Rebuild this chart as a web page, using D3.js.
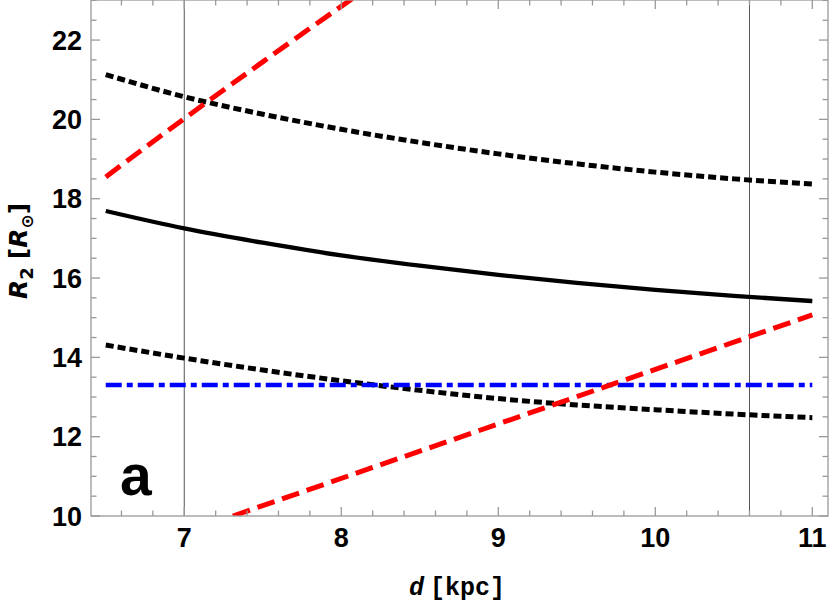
<!DOCTYPE html>
<meta charset="utf-8">
<head>
    <title></title>
    <script src="https://cdn.jsdelivr.net/npm/d3@7"></script>
</head>
<style>
    body{ margin:0; background:#fff; }
    .tlabel{
      font-family: "Liberation Sans", Arial, sans-serif;
      font-weight: bold;
      font-size: 27px;
    }
</style>
<svg width="830" height="604"></svg>
<script>
    // sampled distance grid (kpc)
    var dGrid = [6.5, 7, 7.5, 8, 8.5, 9, 9.5, 10, 10.5, 11];
    var r2Mid = [17.69, 17.25, 16.89, 16.57, 16.31, 16.08, 15.88, 15.70, 15.55, 15.42];
    var r2Up  = [21.13, 20.57, 20.13, 19.75, 19.42, 19.13, 18.88, 18.67, 18.50, 18.37];
    var r2Low = [14.31, 13.98, 13.68, 13.41, 13.17, 12.96, 12.80, 12.68, 12.57, 12.48];
    // red dashed limits
    var redUpD = [6.5, 7, 7.5, 8, 8.5],
        redUpR = [18.55, 20.02, 21.45, 22.85, 24.2];
    var redLowD = [7.31, 11],
        redLowR = [10.0, 15.07];
    // blue dash-dot
    var blueD = [6.5, 11],
        blueR = [13.3, 13.3];
    var vLines = [7, 10.6];
    var xTicks = [7, 8, 9, 10, 11],
        yTicks = [10, 12, 14, 16, 18, 20, 22];

    var pl = 91, pr = 828, pt = 0, pb = 516;
    var svg = d3.select('svg');

    var x = d3.scaleLinear().domain([6.406, 11.1]).range([pl, pr]),
        y = d3.scaleLinear().domain([10, 23.01]).range([pb, pt]);

    svg.append('clipPath').attr('id', 'clip')
        .append('rect').attr('x', pl).attr('y', pt)
        .attr('width', pr - pl).attr('height', pb - pt);

    var plot = svg.append('g').attr('clip-path', 'url(#clip)');

    // reference verticals
    plot.selectAll('.vl').data(vLines).enter().append('line')
        .attr('x1', function(d){ return x(d); }).attr('x2', function(d){ return x(d); })
        .attr('y1', pt).attr('y2', pb)
        .style('stroke', '#555').style('stroke-width', 1);

    function pts(ds, rs){
        return ds.map(function(d, i){ return [d, rs[i]]; });
    }
    var line = d3.line().curve(d3.curveMonotoneX)
        .x(function(d){ return x(d[0]); })
        .y(function(d){ return y(d[1]); });

    var series = [
        {p: pts(dGrid, r2Mid), c: '#000', w: 4.3, dash: null},
        {p: pts(dGrid, r2Up), c: '#000', w: 5, dash: '8,4'},
        {p: pts(dGrid, r2Low), c: '#000', w: 5, dash: '8,4'},
        {p: pts(blueD, blueR), c: '#0000ff', w: 4.5, dash: '16,5,6,5'},
        {p: pts(redUpD, redUpR), c: '#ff0000', w: 5, dash: '18,8'},
        {p: pts(redLowD, redLowR), c: '#ff0000', w: 5, dash: '18,8'}
    ];

    series.forEach(function(s){
        plot.append('path')
            .attr('d', line(s.p))
            .style('fill', 'none')
            .style('stroke', s.c)
            .style('stroke-width', s.w)
            .style('stroke-dasharray', s.dash);
    });

    // frame
    var frame = svg.append('g').style('stroke', '#999').style('stroke-width', 1.3).style('fill', 'none');
    frame.append('rect').attr('x', pl).attr('y', pt).attr('width', pr - pl).attr('height', pb - pt);

    // ticks on all sides
    var xMinor = d3.range(64, 111, 2).map(function(v){ return v / 10; }),
        yMinor = d3.range(20, 47, 1).map(function(v){ return v / 2; });
    xMinor.forEach(function(v){
        var major = Math.abs(v - Math.round(v)) < 1e-6, len = major ? 9 : 5.5;
        if (x(v) < pl || x(v) > pr) return;
        frame.append('line').attr('x1', x(v)).attr('x2', x(v)).attr('y1', pb).attr('y2', pb - len);
        frame.append('line').attr('x1', x(v)).attr('x2', x(v)).attr('y1', pt).attr('y2', pt + len);
    });
    yMinor.forEach(function(v){
        var major = Math.abs(v / 2 - Math.round(v / 2)) < 1e-6, len = major ? 9 : 5.5;
        if (y(v) < pt - 0.5) return;
        frame.append('line').attr('x1', pl).attr('x2', pl + len).attr('y1', y(v)).attr('y2', y(v));
        frame.append('line').attr('x1', pr).attr('x2', pr - len).attr('y1', y(v)).attr('y2', y(v));
    });

    svg.selectAll('.xt').data(xTicks).enter().append('text')
        .attr('class', 'tlabel')
        .attr('x', function(d){ return x(d); })
        .attr('y', 547)
        .attr('text-anchor', 'middle')
        .text(function(d){ return d; });

    svg.selectAll('.yt').data(yTicks).enter().append('text')
        .attr('class', 'tlabel')
        .attr('x', 82)
        .attr('y', function(d){ return y(d); })
        .attr('dy', '0.36em')
        .attr('text-anchor', 'end')
        .text(function(d){ return d; });

    // panel letter
    svg.append('text')
        .attr('x', 120).attr('y', 495)
        .style('font-family', '"Liberation Sans", Arial, sans-serif')
        .style('font-weight', 'bold').style('font-size', '57px')
        .text('a');

    // x label
    var xl = svg.append('text')
        .attr('x', 457).attr('y', 595)
        .attr('text-anchor', 'middle')
        .style('font-family', '"Liberation Mono", "Courier New", monospace')
        .style('font-weight', 'bold').style('font-size', '25px');
    xl.append('tspan').style('font-style', 'italic').text('d');
    xl.append('tspan').attr('dx', 6).text('[kpc]');

    // y label
    var yl = svg.append('text')
        .attr('transform', 'translate(27,251) rotate(-90)')
        .attr('text-anchor', 'middle')
        .style('font-family', '"DejaVu Sans", sans-serif')
        .style('font-weight', 'bold').style('font-size', '25px');
    yl.append('tspan').style('font-style', 'italic').text('R');
    yl.append('tspan').attr('dy', 6).style('font-size', '18px').text('2');
    yl.append('tspan').attr('dy', -6).attr('dx', 8).text('[');
    yl.append('tspan').style('font-style', 'italic').text('R');
    yl.append('tspan').attr('dy', 6).style('font-size', '17px').text('⊙');
    yl.append('tspan').attr('dy', -6).text(']');
</script>
